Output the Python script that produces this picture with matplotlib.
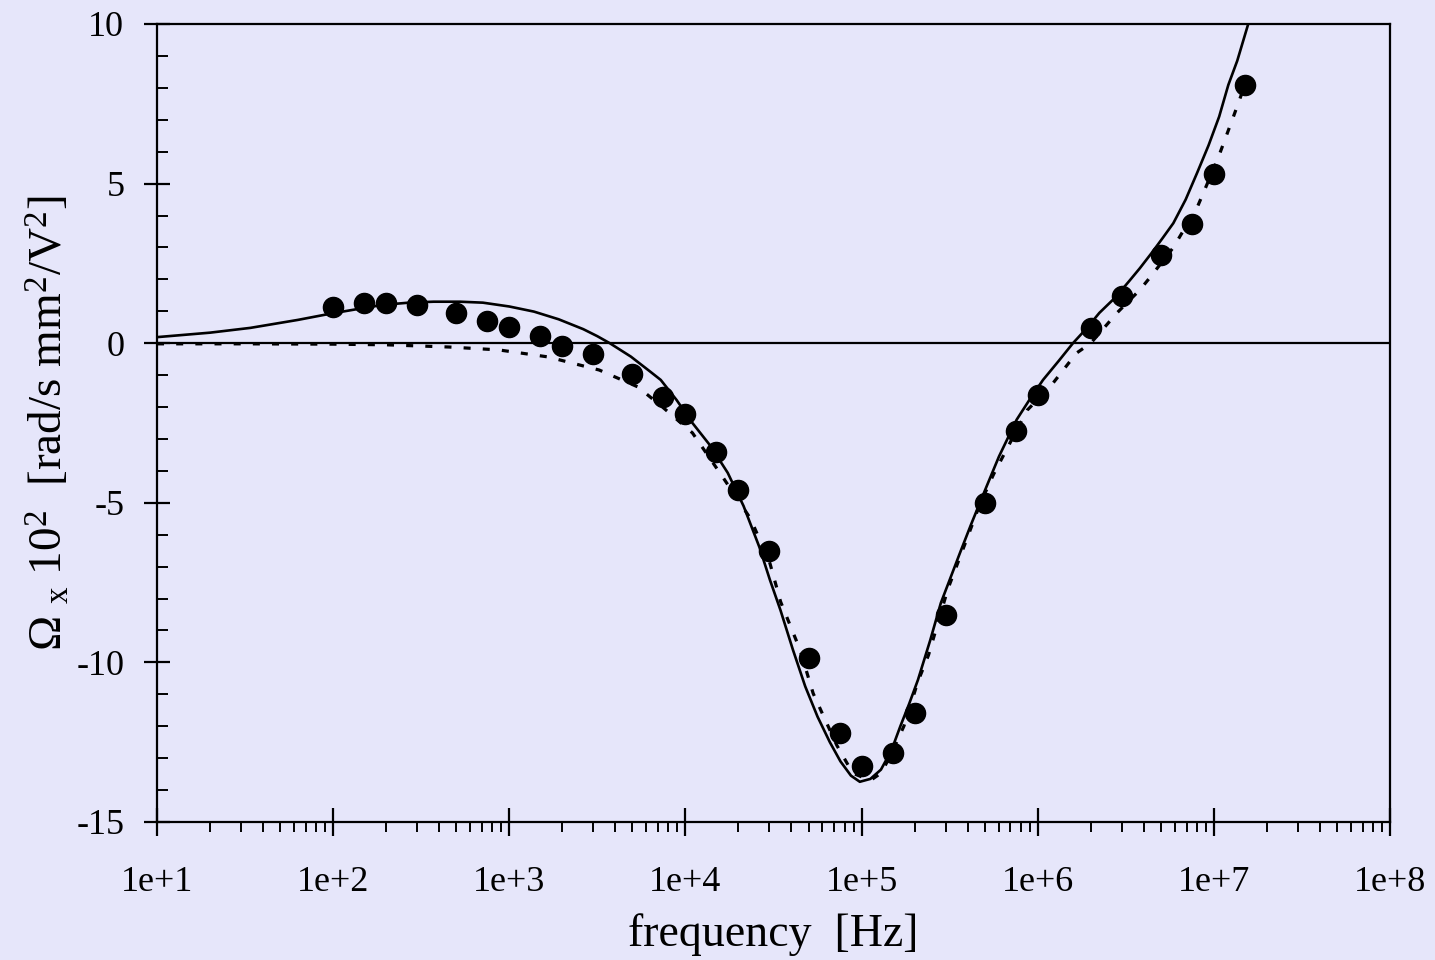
import matplotlib
matplotlib.use("Agg")
import matplotlib.pyplot as plt
from matplotlib.ticker import FixedLocator, FuncFormatter, LogLocator, NullFormatter, MultipleLocator

plt.rcParams['font.family'] = ['Liberation Serif', 'DejaVu Serif']
plt.rcParams['mathtext.fontset'] = 'custom'
plt.rcParams['mathtext.rm'] = 'Liberation Serif'
plt.rcParams['mathtext.it'] = 'Liberation Serif:italic'
plt.rcParams['axes.unicode_minus'] = False

# measured data (frequency [Hz], Omega x 10^2)
meas_freq = [100, 150, 200, 300, 500, 750, 1000, 1500, 2000, 3000, 5000, 7500,
             1e4, 1.5e4, 2e4, 3e4, 5e4, 7.5e4, 1e5, 1.5e5, 2e5, 3e5, 5e5, 7.5e5,
             1e6, 2e6, 3e6, 5e6, 7.5e6, 1e7, 1.5e7]
meas_val = [1.13, 1.26, 1.26, 1.20, 0.95, 0.70, 0.51, 0.23, -0.09, -0.34, -0.96, -1.67,
            -2.23, -3.42, -4.61, -6.50, -9.86, -12.2, -13.25, -12.85, -11.59, -8.50, -5.00, -2.75,
            -1.62, 0.48, 1.48, 2.77, 3.73, 5.30, 8.09]

# model 1 (solid)
solid_freq = [10, 20, 33.9, 63.1, 95.5, 141, 191, 269, 372, 525, 708, 1000, 1380, 1905,
              2630, 3160, 3720, 4900, 6310, 7240, 8910, 10960, 13800, 17380, 21380, 26300,
              30200, 34670, 40740, 47860, 56230, 66070, 75860, 87100, 97720, 112200,
              128800, 147900, 166000, 186200, 208900, 245500, 281800, 363100, 416900,
              489800, 602600, 758600, 891300, 1.072e6, 1.318e6, 1.585e6, 1.905e6,
              2.239e6, 2.754e6, 3.311e6, 3.802e6, 4.467e6, 5.129e6, 5.888e6, 6.918e6,
              8.054e6, 9.333e6, 1.072e7, 1.208e7, 1.358e7, 1.567e7, 1.66e7]
solid_val = [0.19, 0.33, 0.48, 0.73, 0.92, 1.08, 1.20, 1.27, 1.30, 1.30, 1.27, 1.15, 0.99, 0.75,
             0.44, 0.22, 0.0, -0.42, -0.89, -1.15, -1.78, -2.5, -3.2, -4.06, -5.1, -6.39,
             -7.42, -8.37, -9.6, -10.75, -11.7, -12.5, -13.1, -13.55, -13.74, -13.65,
             -13.36, -12.75, -12.0, -11.3, -10.55, -9.3, -8.14, -6.55, -5.7,
             -4.75, -3.55, -2.4, -1.8, -1.15, -0.55, 0.0, 0.48,
             0.95, 1.43, 1.95, 2.35, 2.85, 3.3, 3.76, 4.5,
             5.35, 6.2, 7.1, 8.09, 8.85, 10.0, 10.4]

# model 2 (dotted)
dot_freq = [10, 31.6, 100, 200, 457, 871, 1660, 3240, 5370, 7410, 10960, 16220, 23440,
            30200, 34700, 44700, 53100, 72400, 89100, 112200, 128800, 144500, 173800,
            208900, 239900, 309000, 398100, 467700, 562300, 871000, 1.175e6, 1.66e6,
            2.0e6, 2.82e6, 3.8e6, 4.37e6, 5.89e6, 8.05e6, 1.047e7, 1.29e7, 1.5e7]
dot_val = [-0.02, -0.02, -0.03, -0.05, -0.12, -0.21, -0.43, -0.84, -1.37, -2.0, -2.81, -4.18, -5.5,
           -6.9, -8.1, -9.6, -10.97, -12.6, -13.47, -13.7, -13.47, -12.97, -12.0,
           -10.6, -9.77, -7.7, -6.1, -5.07, -4.1, -2.1, -1.37, -0.31,
           0.0, 0.95, 1.67, 2.08, 3.0, 4.26, 5.74, 7.09, 8.09]

xtick_vals = [1e1, 1e2, 1e3, 1e4, 1e5, 1e6, 1e7, 1e8]
xtick_labels = ['1e+1', '1e+2', '1e+3', '1e+4', '1e+5', '1e+6', '1e+7', '1e+8']
ytick_vals = [-15, -10, -5, 0, 5, 10]

bg = '#E6E6FA'
fig = plt.figure(figsize=(14.35, 9.6), dpi=100, facecolor=bg)
ax = fig.add_axes([157/1435, 1-822/960, (1390-157)/1435, (822-24)/960])
ax.set_facecolor(bg)

ax.set_xscale('log')
ax.set_xlim(1e1, 1e8)
ax.set_ylim(-15, 10)

ax.axhline(0, color='black', lw=1.6, zorder=2)
ax.plot(solid_freq, solid_val, color='black', lw=1.9, zorder=3, solid_joinstyle='round')
ax.plot(dot_freq, dot_val, color='black', lw=2.3, linestyle=(0, (2.2, 3.8)), zorder=3)
ax.plot(meas_freq, meas_val, 'o', color='black', ms=14.5, zorder=4)

ax.xaxis.set_major_locator(FixedLocator(xtick_vals))
ax.xaxis.set_major_formatter(FuncFormatter(lambda v, p: xtick_labels[xtick_vals.index(v)] if v in xtick_vals else ''))
ax.xaxis.set_minor_locator(LogLocator(base=10, subs=range(2, 10), numticks=20))
ax.xaxis.set_minor_formatter(NullFormatter())
ax.yaxis.set_major_locator(FixedLocator(ytick_vals))
ax.yaxis.set_minor_locator(MultipleLocator(1))

for s in ax.spines.values():
    s.set_linewidth(1.6)

ax.tick_params(axis='x', which='major', direction='inout', length=19.5, width=1.6,
               labelsize=26, pad=22, top=False)
ax.tick_params(axis='x', which='minor', direction='out', length=7.5, width=1.4, top=False)
ax.tick_params(axis='y', which='major', direction='inout', length=19, width=1.6,
               labelsize=26, pad=14, right=False)
ax.tick_params(axis='y', which='minor', direction='in', length=8, width=1.4, right=False)

ax.set_xlabel('frequency  [Hz]', fontsize=33, labelpad=10)
ax.set_ylabel('Ω $_{\\rm x}$ 10$^2$  [rad/s mm$^2$/V$^2$]', fontsize=34, labelpad=3)

fig.savefig('out.png', dpi=100, facecolor=bg)
